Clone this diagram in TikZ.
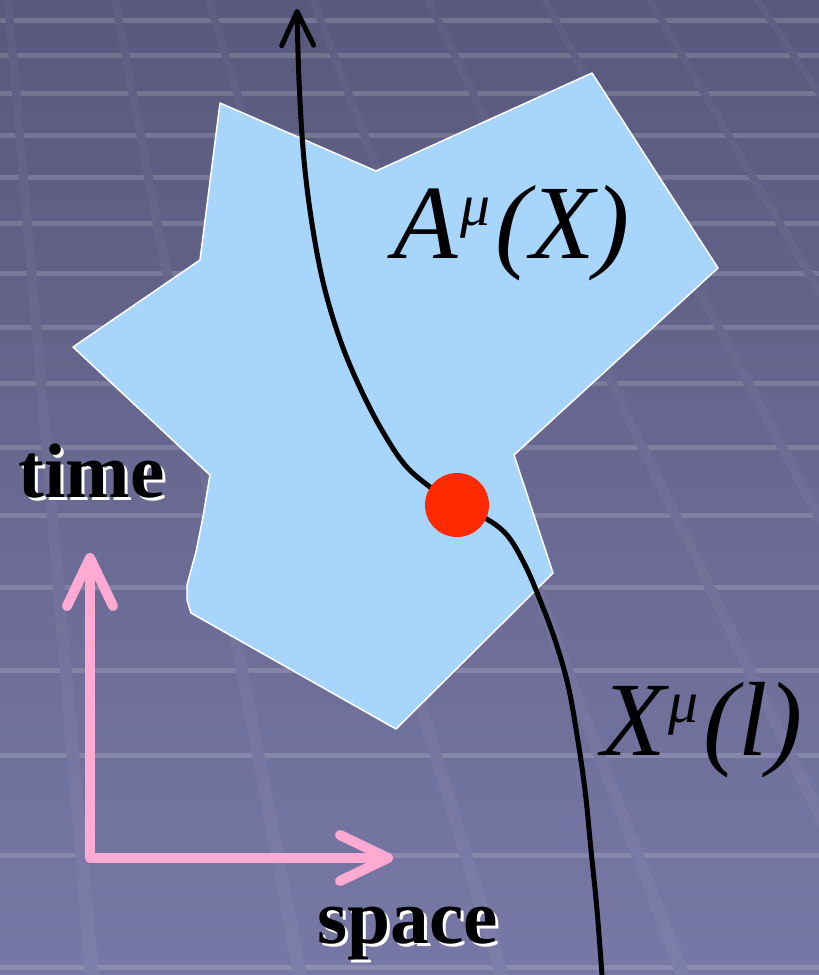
\documentclass[tikz,border=0pt]{standalone}
\usepackage{fontspec}
\setmainfont{Liberation Serif}
\usetikzlibrary{arrows.meta}

\definecolor{bgtop}{RGB}{89,89,125}
\definecolor{bgbot}{RGB}{120,120,166}
\definecolor{bandtop}{RGB}{94,94,130}
\definecolor{bandbot}{RGB}{126,126,171}
\definecolor{regionblue}{RGB}{168,213,252}
\definecolor{eventred}{RGB}{255,42,0}
\definecolor{axispink}{RGB}{255,170,210}

\begin{document}
\begin{tikzpicture}[x=0.01cm, y=-0.01cm]
    \tikzstyle{gridline} = [white, opacity=0.15, line width=0.05cm]
    \tikzstyle{region} = [fill=regionblue, draw=white, line width=0.015cm, line join=round]
    \tikzstyle{worldline} = [line width=0.05cm, -{Straight Barb[length=0.34cm, width=0.32cm, round]}]
    \tikzstyle{axisarrow} = [axispink, line width=0.1cm, line join=round,
        {Straight Barb[length=0.48cm, width=0.46cm, round]}-{Straight Barb[length=0.48cm, width=0.46cm, round]}]
    \tikzstyle{event} = [circle, fill=eventred, minimum size=0.64cm, inner sep=0]
    \tikzstyle{fieldtext} = [anchor=base west, inner sep=0, font=\fontsize{30}{36}\selectfont\itshape]
    \tikzstyle{axistext} = [anchor=base west, inner sep=0, font=\fontsize{22}{26}\selectfont\bfseries]
    \newcommand{\upmu}{\hspace{0.02cm}\raisebox{0.32cm}{\fontsize{17}{20}\selectfont μ}\hspace{0.05cm}}

    \useasboundingbox (0,0) rectangle (819,975);
    \clip (0,0) rectangle (819,975);

    % Background
    \shade[top color=bgtop, bottom color=bgbot] (0,0) rectangle (819,975);
    \foreach \y in {20,55,93,135,177,223,273,327,383,447,515,587,670,755,855,967}
        \draw[gridline] (0,\y) -- (819,\y);
    \foreach \xt/\xb in {8/92, 115/300, 209/502, 313/683, 428/896, 545/1062, 650/1216, 757/1410}
        \shade[top color=bandtop, bottom color=bandbot] (\xt-4,0) -- (\xt+4,0) -- (\xb+7,975) -- (\xb-7,975) -- cycle;

    % Field region
    \draw[region] (220,103) -- (376,171) -- (592,73) -- (718,268) -- (514,455) -- (553,573)
        -- (396,729) -- (191,613) -- (187,600) -- (187,585) -- (196,552) -- (203,517)
        -- (210,475) -- (73,347) -- (200,260) -- cycle;
    \node[fieldtext] (field) at (393,258) {A\upmu(X)};

    % World line
    \coordinate (past) at (602,975);
    \coordinate (crossing) at (457,505);
    \coordinate (future) at (297,9);
    \draw[worldline] plot[smooth, tension=0.6] coordinates {(past) (597,910) (591,850) (585,790)
        (577,735) (568,685) (555,640) (540,600) (525,565) (507,535) (485,518) (crossing)
        (430,487) (405,465) (383,432) (362,392) (342,345) (325,290) (313,230) (304,160)
        (299,80) (future)};
    \node[event] (event) at (crossing) {};
    \node[fieldtext] (path) at (601,755) {X\upmu(l)};

    % Axes
    \coordinate (origin) at (90,858);
    \coordinate (timeend) at (90,553);
    \coordinate (spaceend) at (393,858);
    \draw[axisarrow] (timeend) -- (origin) -- (spaceend);

    \node[axistext, white] (timeshade) at (21,500) {time};
    \node[axistext] (time) at (18,497) {time};
    \node[axistext, white] (spaceshade) at (320,946) {space};
    \node[axistext] (space) at (317,943) {space};
\end{tikzpicture}
\end{document}
